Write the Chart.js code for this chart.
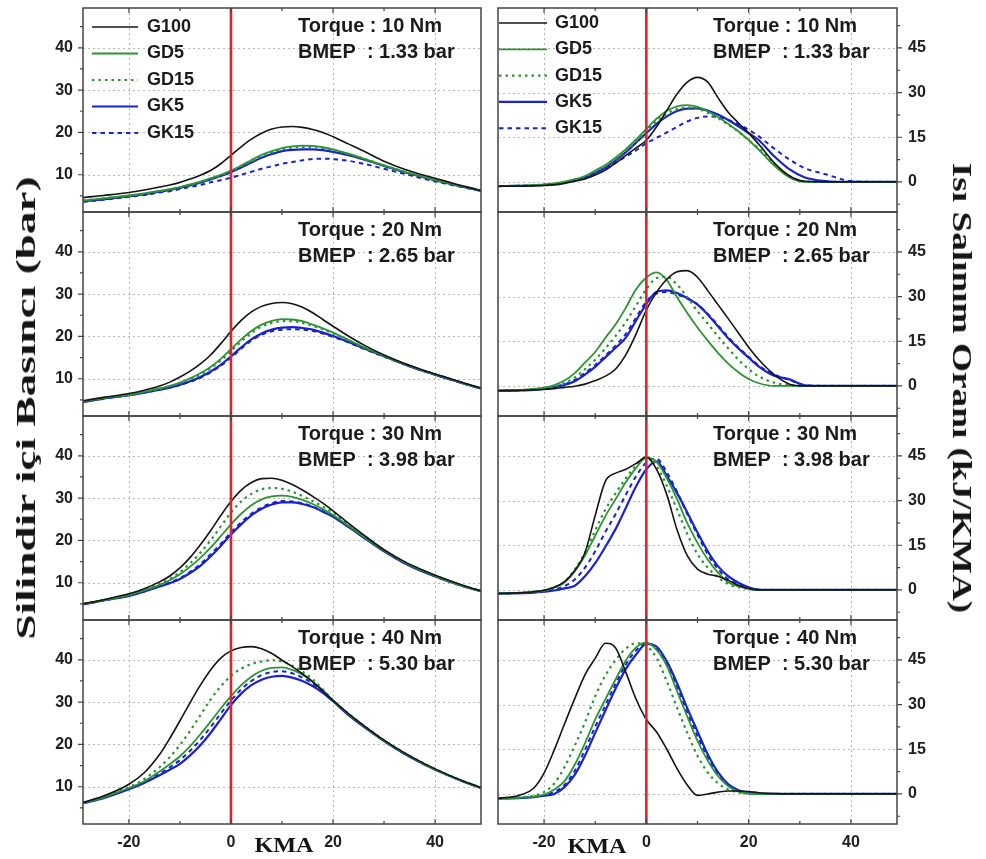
<!DOCTYPE html>
<html lang="tr">
<head>
<meta charset="utf-8">
<title>Silindir içi basınç ve ısı salınım oranı</title>
<script src="https://cdn.jsdelivr.net/npm/chart.js@4.4.1/dist/chart.umd.min.js"></script>
<style>
  html, body { margin: 0; padding: 0; background: #fff; overflow: hidden; }
  #page { position: relative; width: 986px; height: 859px; }
  #page canvas { position: absolute; }
  .axtitle {
    position: absolute;
    font: bold 28px "Liberation Serif", "Times New Roman", serif;
    line-height: 1;
    white-space: nowrap;
    color: #151515;
  }
  .kma {
    position: absolute;
    font: bold 22px "Liberation Serif", "Times New Roman", serif;
    line-height: 1;
    color: #151515;
    transform: translate(-50%, -50%) scaleX(1.1);
  }
</style>
</head>
<body>
<div id="page">
  <div class="axtitle" id="titleLeft">Silindir içi Basıncı (bar)</div>
  <div class="axtitle" id="titleRight">Isı Salınım Oranı (kJ/KMA)</div>
  <div class="kma" style="left:284px; top:845px;">KMA</div>
  <div class="kma" style="left:597px; top:846px;">KMA</div>
</div>

<script>
// ===============================
// EKSENLER
// ===============================
const kmaP = [-29, -25, -20, -17, -14, -12, -10, -8, -6, -4, -2, 0, 2, 4, 6, 8, 10, 12, 14, 16, 18, 20, 23, 26, 30, 34, 38, 42, 46, 49];
const kmaH = [-29, -25, -22, -20, -18, -16, -14, -12, -10, -8, -6, -4, -2, 0, 2, 4, 6, 8, 10, 12, 14, 16, 18, 20, 22, 25, 28, 31, 35, 40, 45, 49];

const kmaTicks = [-20, 0, 20, 40];
const kmaMinor = [-10, 10, 30];
const presTicks = [10, 20, 30, 40];
const presMinor = [5, 15, 25, 35, 45];
const heatTicks = [0, 15, 30, 45];
const heatMinor = [-7.5, 7.5, 22.5, 37.5, 52.5];

const fuels = ["G100", "GD5", "GD15", "GK5", "GK15"];
const torques = [10, 20, 30, 40];
const bmeps = ["1.33", "2.65", "3.98", "5.30"];

// ===============================
// SİLİNDİR İÇİ BASINÇ (bar)
// ===============================
const p10G100 = [4.6, 5.1, 5.8, 6.4, 7.1, 7.6, 8.2, 9.0, 9.9, 11.0, 12.6, 14.6, 16.6, 18.4, 19.8, 20.8, 21.3, 21.4, 21.2, 20.7, 20.0, 19.0, 17.3, 15.6, 13.2, 11.3, 9.8, 8.5, 7.2, 6.3];
const p10GD5  = [3.9, 4.4, 5.1, 5.6, 6.2, 6.6, 7.1, 7.7, 8.4, 9.2, 10.0, 11.0, 12.2, 13.5, 14.7, 15.6, 16.3, 16.7, 16.9, 16.8, 16.5, 16.0, 15.0, 13.8, 12.2, 10.7, 9.4, 8.2, 7.1, 6.3];
const p10GD15 = [3.9, 4.4, 5.0, 5.5, 6.1, 6.5, 7.0, 7.6, 8.2, 9.0, 9.8, 10.8, 12.0, 13.2, 14.4, 15.3, 16.0, 16.4, 16.6, 16.6, 16.3, 15.9, 14.9, 13.8, 12.2, 10.7, 9.4, 8.2, 7.1, 6.3];
const p10GK5  = [3.7, 4.2, 4.9, 5.4, 6.0, 6.4, 6.9, 7.5, 8.1, 8.9, 9.7, 10.6, 11.7, 12.9, 14.0, 14.9, 15.6, 15.9, 16.0, 16.0, 15.8, 15.4, 14.6, 13.6, 12.1, 10.6, 9.3, 8.1, 7.0, 6.2];
const p10GK15 = [3.6, 4.1, 4.8, 5.2, 5.8, 6.1, 6.6, 7.1, 7.6, 8.2, 8.7, 9.3, 10.0, 10.7, 11.4, 12.0, 12.6, 13.0, 13.4, 13.7, 13.8, 13.7, 13.3, 12.6, 11.4, 10.2, 9.0, 7.9, 6.9, 6.2];

const p20G100 = [4.8, 5.6, 6.5, 7.3, 8.3, 9.2, 10.4, 11.8, 13.5, 15.6, 18.3, 21.2, 23.8, 25.8, 27.1, 27.8, 28.0, 27.7, 26.9, 25.6, 24.0, 22.4, 20.1, 18.0, 15.6, 13.6, 11.9, 10.4, 8.9, 7.8];
const p20GD5  = [4.6, 5.4, 6.2, 6.9, 7.7, 8.3, 9.1, 10.1, 11.3, 12.8, 14.7, 17.0, 19.3, 21.3, 22.8, 23.7, 24.1, 24.0, 23.6, 22.8, 21.9, 20.9, 19.2, 17.5, 15.4, 13.5, 11.8, 10.3, 8.8, 7.7];
const p20GD15 = [4.6, 5.4, 6.2, 6.9, 7.6, 8.2, 9.0, 9.9, 11.0, 12.5, 14.3, 16.5, 18.8, 20.8, 22.3, 23.2, 23.6, 23.6, 23.2, 22.5, 21.7, 20.7, 19.1, 17.4, 15.4, 13.5, 11.8, 10.3, 8.8, 7.7];
const p20GK5  = [4.5, 5.3, 6.1, 6.7, 7.4, 7.9, 8.6, 9.4, 10.4, 11.7, 13.3, 15.3, 17.4, 19.3, 20.7, 21.6, 22.1, 22.2, 22.0, 21.6, 20.9, 20.1, 18.7, 17.2, 15.3, 13.4, 11.7, 10.2, 8.7, 7.7];
const p20GK15 = [4.5, 5.3, 6.1, 6.7, 7.4, 7.9, 8.5, 9.3, 10.2, 11.5, 13.1, 15.0, 17.1, 19.0, 20.4, 21.2, 21.6, 21.7, 21.6, 21.3, 20.7, 19.9, 18.6, 17.1, 15.2, 13.4, 11.7, 10.2, 8.7, 7.7];

const p30G100 = [5.0, 6.0, 7.4, 8.6, 10.2, 11.6, 13.5, 16.0, 19.0, 22.3, 25.9, 29.2, 31.9, 33.7, 34.6, 34.7, 34.2, 33.2, 31.9, 30.4, 28.8, 27.0, 24.1, 21.3, 17.8, 15.0, 12.8, 10.9, 9.2, 8.1];
const p30GD5  = [5.0, 5.9, 7.1, 8.2, 9.5, 10.6, 12.0, 13.8, 15.9, 18.3, 21.0, 23.8, 26.3, 28.3, 29.7, 30.4, 30.6, 30.3, 29.6, 28.6, 27.4, 26.0, 23.5, 20.9, 17.6, 14.8, 12.6, 10.7, 9.0, 8.0];
const p30GD15 = [5.0, 5.9, 7.2, 8.3, 9.7, 10.9, 12.5, 14.6, 17.1, 20.0, 23.3, 26.6, 29.2, 31.0, 32.1, 32.4, 32.2, 31.5, 30.5, 29.3, 28.0, 26.6, 23.8, 21.1, 17.7, 14.9, 12.7, 10.8, 9.1, 8.0];
const p30GK5  = [4.9, 5.8, 6.9, 7.9, 9.1, 9.9, 10.9, 12.3, 14.0, 16.2, 18.7, 21.4, 23.8, 25.9, 27.5, 28.5, 29.0, 29.0, 28.6, 27.9, 26.8, 25.6, 23.2, 20.7, 17.4, 14.6, 12.4, 10.6, 9.0, 8.0];
const p30GK15 = [4.9, 5.8, 7.0, 8.0, 9.2, 10.1, 11.1, 12.6, 14.4, 16.7, 19.2, 21.9, 24.3, 26.3, 27.8, 28.8, 29.3, 29.2, 28.8, 28.0, 26.9, 25.7, 23.3, 20.8, 17.5, 14.7, 12.5, 10.6, 9.0, 8.0];

const p40G100 = [6.3, 7.8, 10.6, 13.3, 17.6, 21.4, 25.6, 29.9, 34.0, 37.6, 40.4, 42.1, 42.9, 43.1, 42.6, 41.5, 39.9, 38.4, 36.7, 34.8, 32.6, 30.4, 27.3, 24.5, 21.0, 18.0, 15.4, 13.1, 11.1, 9.8];
const p40GD5  = [6.2, 7.5, 9.7, 11.3, 13.6, 15.3, 17.2, 19.6, 22.4, 25.4, 28.5, 31.4, 34.0, 36.0, 37.4, 38.1, 38.2, 37.6, 36.5, 34.9, 32.8, 30.4, 27.2, 24.4, 20.9, 17.9, 15.3, 13.0, 11.0, 9.7];
const p40GD15 = [6.2, 7.6, 9.9, 11.8, 14.6, 17.0, 19.9, 23.2, 26.9, 30.6, 33.7, 36.2, 37.9, 39.0, 39.6, 39.9, 39.6, 38.6, 37.2, 35.4, 33.0, 30.5, 27.3, 24.5, 21.0, 18.0, 15.4, 13.1, 11.1, 9.8];
const p40GK5  = [6.1, 7.3, 9.4, 10.9, 12.7, 14.0, 15.4, 17.4, 19.8, 22.7, 26.0, 29.3, 32.0, 34.0, 35.3, 36.0, 36.2, 35.8, 35.0, 33.8, 32.2, 30.2, 27.0, 24.2, 20.8, 17.8, 15.2, 13.0, 11.0, 9.7];
const p40GK15 = [6.1, 7.4, 9.5, 11.1, 13.1, 14.6, 16.3, 18.5, 21.1, 24.1, 27.3, 30.4, 33.0, 35.0, 36.4, 37.1, 37.3, 36.8, 35.8, 34.4, 32.5, 30.3, 27.1, 24.3, 20.8, 17.8, 15.2, 13.0, 11.0, 9.7];

// ===============================
// ISI SALINIM ORANI (kJ/KMA)
// ===============================
const h10G100 = [-1.4, -1.4, -1.3, -1.2, -1.0, -0.5, 0.2, 1.0, 2.3, 4.0, 6.3, 8.9, 11.4, 14.0, 18.5, 24.0, 29.5, 33.5, 35.1, 33.5, 28.3, 23.4, 19.8, 16.4, 12.6, 6.4, 2.0, 0.2, 0, 0, 0, 0];
const h10GD5  = [-1.4, -1.3, -1.1, -0.9, -0.5, 0.1, 0.9, 2.0, 3.8, 5.7, 8.2, 11.0, 14.3, 17.8, 21.2, 23.9, 25.4, 25.8, 25.2, 23.7, 21.8, 19.5, 17.0, 14.0, 10.8, 5.5, 1.5, 0, 0, 0, 0, 0];
const h10GD15 = [-1.4, -1.3, -1.1, -0.9, -0.5, 0.0, 0.8, 1.8, 3.5, 5.3, 7.7, 10.4, 13.6, 17.0, 20.4, 23.0, 24.5, 25.0, 24.6, 23.2, 21.4, 19.2, 16.9, 14.1, 11.2, 6.1, 2.0, 0.2, 0, 0, 0, 0];
const h10GK5  = [-1.4, -1.3, -1.2, -1.0, -0.7, -0.2, 0.5, 1.5, 3.0, 4.8, 7.2, 10.0, 13.2, 16.4, 19.5, 22.0, 23.8, 24.6, 24.7, 24.0, 22.6, 20.8, 18.7, 16.4, 14.0, 8.6, 4.2, 1.5, 0.3, 0, 0, 0];
const h10GK15 = [-1.4, -1.3, -1.2, -1.0, -0.7, -0.2, 0.5, 1.5, 3.0, 4.6, 6.5, 8.5, 10.6, 13.0, 14.8, 16.6, 18.5, 20.3, 21.5, 22.0, 21.8, 20.8, 19.3, 17.5, 15.3, 11.2, 7.5, 4.6, 2.6, 0.3, 0, 0];

const h20G100 = [-1.6, -1.5, -1.3, -1.2, -0.9, -0.5, -0.1, 0.6, 1.8, 3.3, 5.7, 10.5, 17.5, 25.5, 31.5, 35.8, 38.3, 38.7, 36.5, 32.0, 27.3, 22.6, 17.8, 13.0, 8.8, 3.8, 0.6, 0, 0, 0, 0, 0];
const h20GD5  = [-1.6, -1.4, -1.0, -0.6, 0.3, 1.8, 4.3, 7.8, 11.4, 16.2, 20.7, 26.3, 32.5, 36.4, 38.1, 35.5, 29.8, 24.5, 19.6, 15.2, 11.1, 7.5, 4.6, 2.3, 0.9, 0, 0, 0, 0, 0, 0, 0];
const h20GD15 = [-1.6, -1.4, -1.1, -0.8, -0.2, 1.0, 2.8, 5.6, 8.8, 12.6, 16.8, 21.5, 27.0, 32.5, 36.2, 36.6, 34.0, 29.8, 25.1, 20.9, 16.6, 12.6, 8.8, 5.6, 3.2, 1.1, 0.2, 0, 0, 0, 0, 0];
const h20GK5  = [-1.6, -1.5, -1.3, -1.0, -0.5, 0.3, 1.6, 3.8, 6.4, 9.6, 12.8, 16.2, 22.0, 27.5, 31.6, 32.1, 31.2, 29.5, 27.3, 24.0, 20.0, 16.0, 12.6, 9.5, 6.5, 3.4, 2.2, 0.2, 0, 0, 0, 0];
const h20GK15 = [-1.6, -1.5, -1.2, -0.9, -0.3, 0.6, 2.0, 4.3, 7.0, 10.2, 13.6, 17.5, 23.0, 28.3, 31.0, 31.5, 30.7, 29.3, 27.4, 24.2, 20.4, 16.4, 12.9, 9.8, 6.8, 3.8, 2.0, 0.3, 0, 0, 0, 0];

const h30G100 = [-1.2, -1.0, -0.6, -0.1, 0.9, 2.8, 6.5, 12.5, 25.0, 36.5, 39.2, 40.5, 42.5, 44.6, 40.5, 32.0, 20.2, 11.5, 7.0, 5.3, 4.6, 3.2, 1.6, 0.5, 0, 0, 0, 0, 0, 0, 0, 0];
const h30GD5  = [-1.2, -1.0, -0.6, -0.2, 0.8, 2.5, 6.2, 11.5, 18.2, 24.8, 30.5, 36.2, 41.0, 44.4, 43.0, 37.5, 30.5, 22.4, 15.8, 10.2, 5.8, 2.6, 1.2, 0.4, 0, 0, 0, 0, 0, 0, 0, 0];
const h30GD15 = [-1.2, -1.0, -0.6, -0.1, 0.9, 2.7, 6.8, 12.5, 20.0, 27.0, 32.5, 37.5, 41.8, 44.5, 41.5, 35.0, 27.0, 18.8, 12.0, 7.5, 4.2, 2.0, 0.9, 0.3, 0, 0, 0, 0, 0, 0, 0, 0];
const h30GK5  = [-1.2, -1.1, -0.9, -0.6, -0.2, 0.5, 1.4, 4.6, 9.0, 14.5, 20.5, 27.6, 34.8, 40.5, 43.2, 38.3, 32.5, 26.0, 19.3, 13.0, 8.0, 4.6, 2.4, 0.9, 0.1, 0, 0, 0, 0, 0, 0, 0];
const h30GK15 = [-1.2, -1.1, -0.8, -0.4, 0.2, 1.3, 3.5, 7.5, 13.0, 19.5, 25.5, 32.0, 38.2, 42.8, 44.0, 39.5, 33.0, 25.5, 18.5, 12.0, 7.0, 3.6, 1.8, 0.6, 0, 0, 0, 0, 0, 0, 0, 0];

const h40G100 = [-1.5, -0.5, 2.0, 7.0, 14.8, 23.5, 32.0, 40.0, 45.5, 50.6, 49.0, 40.8, 31.8, 25.0, 20.8, 15.0, 8.5, 3.0, -0.5, 0.0, 0.6, 1.0, 1.0, 0.8, 0.4, 0.1, 0, 0, 0, 0, 0, 0];
const h40GD5  = [-1.5, -1.3, -0.9, -0.2, 1.5, 4.3, 9.8, 17.0, 25.0, 31.8, 38.5, 44.8, 49.2, 50.8, 48.4, 43.0, 34.5, 26.0, 17.8, 11.2, 6.0, 2.6, 0.8, 0.2, 0, 0, 0, 0, 0, 0, 0, 0];
const h40GD15 = [-1.5, -1.2, -0.6, 0.6, 3.5, 9.0, 16.2, 24.0, 32.8, 39.8, 45.0, 48.8, 50.6, 49.8, 45.6, 37.8, 29.0, 20.5, 12.8, 7.2, 3.6, 1.5, 0.5, 0.1, 0, 0, 0, 0, 0, 0, 0, 0];
const h40GK5  = [-1.5, -1.4, -1.1, -0.6, 0.0, 2.3, 6.4, 12.8, 20.5, 28.0, 35.4, 42.0, 46.8, 50.4, 49.5, 44.5, 37.2, 28.8, 21.0, 13.3, 7.3, 3.3, 1.2, 0.3, 0, 0, 0, 0, 0, 0, 0, 0];
const h40GK15 = [-1.5, -1.3, -1.0, -0.4, 0.7, 3.0, 7.8, 14.8, 22.6, 29.8, 37.0, 43.5, 48.2, 50.6, 49.0, 43.8, 36.0, 27.4, 19.4, 12.2, 6.6, 2.9, 1.0, 0.2, 0, 0, 0, 0, 0, 0, 0, 0];

const pressureSets = [
  [p10G100, p10GD5, p10GD15, p10GK5, p10GK15],
  [p20G100, p20GD5, p20GD15, p20GK5, p20GK15],
  [p30G100, p30GD5, p30GD15, p30GK5, p30GK15],
  [p40G100, p40GD5, p40GD15, p40GK5, p40GK15]
];
const heatSets = [
  [h10G100, h10GD5, h10GD15, h10GK5, h10GK15],
  [h20G100, h20GD5, h20GD15, h20GK5, h20GK15],
  [h30G100, h30GD5, h30GD15, h30GK5, h30GK15],
  [h40G100, h40GD5, h40GD15, h40GK5, h40GK15]
];

// ===============================
// ÇİZGİ STİLLERİ / YERLEŞİM
// ===============================
const lineStyle = {
  G100: { color: "#141414", width: 1.6, dash: [] },
  GD5:  { color: "#2b952f", width: 1.8, dash: [] },
  GD15: { color: "#2b952f", width: 2.2, dash: [2.5, 4] },
  GK5:  { color: "#1a22d0", width: 2.2, dash: [] },
  GK15: { color: "#1a22d0", width: 2.0, dash: [4.5, 4] }
};

const FONT = '"Liberation Sans", Arial, Helvetica, sans-serif';
const rowTop = [8, 212, 416, 620];
const plotH = 204;
const M = 14;

// ===============================
// PANEL SÜSLEMELERİ (ızgara, çerçeve, yazılar, lejant)
// ===============================
const panelDeco = {
  id: "panelDeco",
  beforeDatasetsDraw(chart, args, o) {
    const { ctx, chartArea: a, scales: { x, y } } = chart;
    ctx.save();
    ctx.strokeStyle = "#b8b8b8";
    ctx.lineWidth = 1;
    ctx.setLineDash([2, 3]);
    ctx.beginPath();
    kmaTicks.filter(v => v !== 0).forEach(v => {
      const px = Math.round(x.getPixelForValue(v)) + 0.5;
      ctx.moveTo(px, a.top);
      ctx.lineTo(px, a.bottom);
    });
    o.yTicks.forEach(v => {
      const py = Math.round(y.getPixelForValue(v)) + 0.5;
      ctx.moveTo(a.left, py);
      ctx.lineTo(a.right, py);
    });
    ctx.stroke();
    ctx.restore();
  },
  afterDatasetsDraw(chart, args, o) {
    const { ctx, chartArea: a, scales: { x, y } } = chart;
    ctx.save();

    // 0 KMA çizgisi
    const x0 = x.getPixelForValue(0);
    ctx.strokeStyle = "#d9262b";
    ctx.lineWidth = 2.6;
    ctx.beginPath();
    ctx.moveTo(x0, a.top);
    ctx.lineTo(x0, a.bottom);
    ctx.stroke();

    // çerçeve
    ctx.strokeStyle = "#444";
    ctx.lineWidth = 1.5;
    ctx.strokeRect(a.left, a.top, a.right - a.left, a.bottom - a.top);

    // tik işaretleri
    ctx.lineWidth = 1.2;
    ctx.beginPath();
    const xt = (vals, len) => vals.forEach(v => {
      const px = x.getPixelForValue(v);
      ctx.moveTo(px, a.top); ctx.lineTo(px, a.top + len);
      ctx.moveTo(px, a.bottom); ctx.lineTo(px, a.bottom - len);
    });
    xt(kmaTicks, 5);
    xt(kmaMinor, 3);
    const edge = o.side === "left" ? a.left : a.right;
    const dir = o.side === "left" ? -1 : 1;
    const yt = (vals, len) => vals.forEach(v => {
      const py = y.getPixelForValue(v);
      if (py < a.top || py > a.bottom) return;
      ctx.moveTo(edge, py); ctx.lineTo(edge + dir * len, py);
    });
    yt(o.yTicks, 5);
    yt(o.yMinor, 3);
    ctx.stroke();

    // yük bilgisi
    ctx.fillStyle = "#1b1b1b";
    ctx.font = "bold 20px " + FONT;
    ctx.textAlign = "left";
    ctx.textBaseline = "alphabetic";
    ctx.fillText("Torque : " + o.torque + " Nm", a.left + 215, a.top + 24);
    ctx.fillText("BMEP  : " + o.bmep + " bar", a.left + 215, a.top + 50);

    // lejant (sadece üst sıra)
    if (o.legend) {
      const L = o.legend;
      ctx.font = "bold 18px " + FONT;
      ctx.textBaseline = "middle";
      chart.data.datasets.forEach((ds, i) => {
        const cy = a.top + L.y0 + i * L.dy;
        ctx.save();
        ctx.strokeStyle = ds.borderColor;
        ctx.lineWidth = ds.borderWidth;
        ctx.setLineDash(ds.borderDash);
        ctx.beginPath();
        ctx.moveTo(a.left + L.x0, cy);
        ctx.lineTo(a.left + L.x1, cy);
        ctx.stroke();
        ctx.restore();
        ctx.fillText(ds.label, a.left + L.tx, cy);
      });
    }
    ctx.restore();
  }
};

function makeDatasets(kma, arrays) {
  return fuels.map((name, i) => ({
    label: name,
    data: kma.map((k, j) => ({ x: k, y: arrays[i][j] })),
    borderColor: lineStyle[name].color,
    borderWidth: lineStyle[name].width,
    borderDash: lineStyle[name].dash,
    pointRadius: 0,
    fill: false,
    cubicInterpolationMode: "monotone"
  }));
}

function buildPanel(row, col) {
  const left = col === 0;
  const bottom = row === 3;
  const page = document.getElementById("page");
  const canvas = document.createElement("canvas");
  const w = left ? 490 : 496;
  const h = M + plotH + (bottom ? 40 : M);
  canvas.width = w;
  canvas.height = h;
  canvas.style.left = (left ? 0 : 490) + "px";
  canvas.style.top = (rowTop[row] - M) + "px";
  page.insertBefore(canvas, page.firstChild);

  const tickFont = { family: FONT, size: 16, weight: "bold" };
  const yTicks = left ? presTicks : heatTicks;

  new Chart(canvas, {
    type: "line",
    data: { datasets: makeDatasets(left ? kmaP : kmaH, left ? pressureSets[row] : heatSets[row]) },
    plugins: [panelDeco],
    options: {
      responsive: false,
      animation: false,
      events: [],
      layout: { padding: { top: M, bottom: bottom ? 0 : M, left: left ? 0 : 8, right: left ? 9 : 0 } },
      scales: {
        x: {
          type: "linear",
          min: -29,
          max: 49,
          display: bottom,
          grid: { display: false, drawTicks: false },
          border: { display: false },
          ticks: { font: tickFont, color: "#1e1e1e", padding: 9, maxRotation: 0, autoSkip: false },
          afterBuildTicks: s => { s.ticks = kmaTicks.map(v => ({ value: v })); },
          afterFit: s => {
            s.height = bottom ? 40 : 0;
            s.paddingLeft = 0;
            s.paddingRight = 0;
          }
        },
        y: {
          type: "linear",
          position: left ? "left" : "right",
          min: left ? 1.2 : -10.1,
          max: left ? 49.4 : 58.4,
          grid: { display: false, drawTicks: false },
          border: { display: false },
          ticks: { font: tickFont, color: "#1e1e1e", padding: left ? 10 : 11 },
          afterBuildTicks: s => { s.ticks = yTicks.map(v => ({ value: v })); },
          afterFit: s => { s.width = left ? 83 : 89; s.paddingTop = 0; s.paddingBottom = 0; }
        }
      },
      plugins: {
        legend: { display: false },
        tooltip: { enabled: false },
        panelDeco: {
          side: left ? "left" : "right",
          yTicks: yTicks,
          yMinor: left ? presMinor : heatMinor,
          torque: torques[row],
          bmep: bmeps[row],
          legend: row === 0
            ? (left ? { x0: 9, x1: 55, tx: 64, y0: 19, dy: 26.5 } : { x0: 1, x1: 49, tx: 57, y0: 15, dy: 26.3 })
            : false
        }
      }
    }
  });
}

for (let r = 0; r < 4; r++) {
  buildPanel(r, 0);
  buildPanel(r, 1);
}

// ===============================
// EKSEN BAŞLIKLARI
// ===============================
function placeTitle(el, cx, cy, angle, len) {
  const k = len / el.offsetWidth;
  el.style.left = cx + "px";
  el.style.top = cy + "px";
  el.style.transform = "translate(-50%, -50%) rotate(" + angle + "deg) scale(" + k + ", 1)";
}
placeTitle(document.getElementById("titleLeft"), 26, 408, -90, 464);
placeTitle(document.getElementById("titleRight"), 962, 388, 90, 450);
</script>
</body>
</html>
